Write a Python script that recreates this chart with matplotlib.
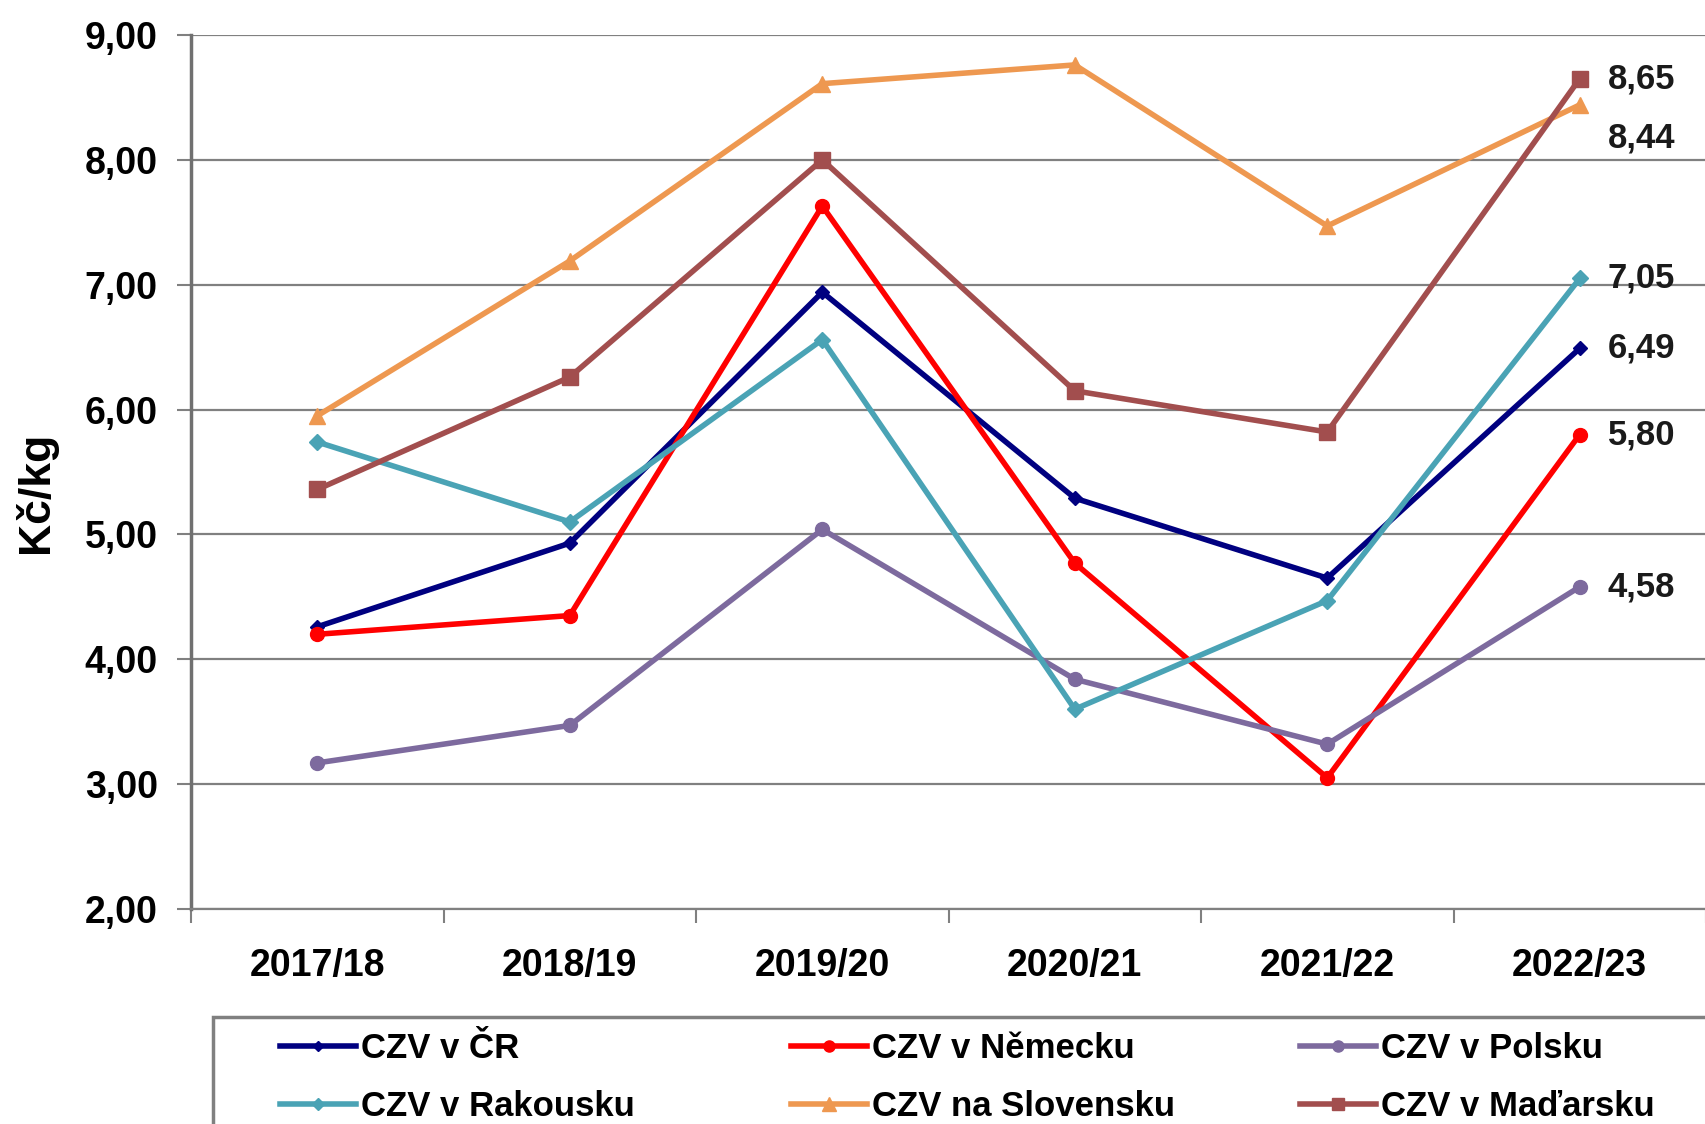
import numpy as np
import matplotlib
matplotlib.use("Agg")
import matplotlib.pyplot as plt
from matplotlib.patches import Rectangle
from matplotlib.lines import Line2D

plt.rcParams['font.family'] = ['Liberation Sans', 'DejaVu Sans']
plt.rcParams['font.weight'] = 'bold'

# data
years = ['2017/18', '2018/19', '2019/20', '2020/21', '2021/22', '2022/23']
cr = [4.26, 4.93, 6.94, 5.29, 4.65, 6.49]
nemecko = [4.20, 4.35, 7.63, 4.77, 3.05, 5.80]
polsko = [3.17, 3.47, 5.04, 3.84, 3.32, 4.58]
rakousko = [5.74, 5.10, 6.56, 3.60, 4.47, 7.05]
slovensko = [5.95, 7.19, 8.61, 8.76, 7.47, 8.44]
madarsko = [5.36, 6.26, 8.00, 6.15, 5.82, 8.65]

names = ['CZV v ČR', 'CZV v Německu', 'CZV v Polsku',
         'CZV v Rakousku', 'CZV na Slovensku', 'CZV v Maďarsku']
series = [cr, nemecko, polsko, rakousko, slovensko, madarsko]
colors = ['#000080', '#FF0000', '#7D6A9E', '#4AA3B5', '#EE9850', '#A24E4E']
markers = ['D', 'o', 'o', 'D', '^', 's']
msizes = [7, 10, 10, 8, 12, 11]
# vertical offsets (points) for the value labels at the last point
label_dy = [0, 0, 0, 0, -24, 0]

fig = plt.figure(figsize=(17.06, 11.24), dpi=100)
ax = fig.add_axes([0.112, 0.1913, 0.888, 0.7776])

x = np.arange(len(years))
for vals, name, c, m, ms, dy in zip(series, names, colors, markers, msizes, label_dy):
    ax.plot(x, vals, color=c, lw=4, marker=m, markersize=ms,
            markeredgecolor=c, markerfacecolor=c, label=name, zorder=3)
    ax.annotate(f'{vals[-1]:.2f}'.replace('.', ','), (x[-1], vals[-1]),
                xytext=(20, dy), textcoords='offset points',
                ha='left', va='center', fontsize=25, fontweight='bold',
                color='#1a1a1a')

ax.set_xlim(-0.5, 5.5)
ax.set_ylim(2, 9)
yt = np.arange(2, 10, 1)
ax.set_yticks(yt)
ax.set_yticklabels([f'{v:.2f}'.replace('.', ',') for v in yt])
ax.set_xticks(x)
ax.set_xticklabels(years)
ax.set_xticks(np.arange(-0.5, 6, 1), minor=True)

ax.tick_params(axis='y', length=10, width=1.5, color='#808080', pad=14,
               labelsize=27)
ax.tick_params(axis='x', which='major', length=0, pad=28, labelsize=27)
ax.tick_params(axis='x', which='minor', length=10, width=1.5, color='#808080')

ax.grid(axis='y', color='#808080', lw=1.6)
ax.set_axisbelow(True)
for s in ['top', 'right']:
    ax.spines[s].set_visible(False)
ax.spines['left'].set_color('#707070')
ax.spines['left'].set_linewidth(2.5)
ax.spines['bottom'].set_color('#808080')
ax.spines['bottom'].set_linewidth(1.6)

fig.text(36 / 1706, 1 - 492 / 1124, 'Kč/kg', rotation=90, ha='center',
         va='center', fontsize=32, fontweight='bold')

# legend frame running off the figure edge
fig.patches.append(Rectangle((213 / 1706, -0.05), 1.0, 1 - 1017 / 1124 + 0.05,
                             transform=fig.transFigure, fill=False,
                             edgecolor='#808080', lw=2.5))

col_x = [280 / 1706, 791 / 1706, 1300 / 1706]
for i in range(3):
    hs = [Line2D([], [], color=colors[j], lw=4, marker=markers[j],
                 markersize=msizes[j] * 0.8) for j in (i, i + 3)]
    fig.legend(hs, [names[i], names[i + 3]], loc='upper left',
               bbox_to_anchor=(col_x[i], 1 - 1032 / 1124), frameon=False,
               fontsize=25, handlelength=2.2, handletextpad=0.12,
               labelspacing=0.72, borderpad=0, borderaxespad=0)

fig.savefig('out.png', dpi=100)
